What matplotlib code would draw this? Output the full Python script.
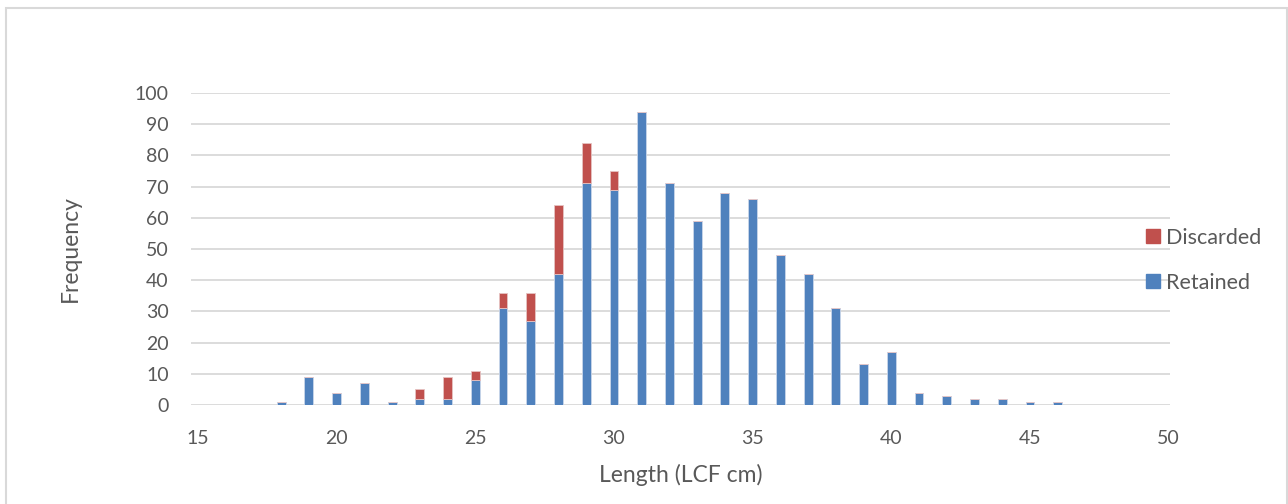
import matplotlib.pyplot as plt
from matplotlib.patches import Rectangle
import numpy as np

# length classes (LCF cm) and counts
lengths = [18, 19, 20, 21, 22, 23, 24, 25, 26, 27, 28, 29, 30, 31, 32,
           33, 34, 35, 36, 37, 38, 39, 40, 41, 42, 43, 44, 45, 46]
retained = [1, 9, 4, 7, 1, 2, 2, 8, 31, 27, 42, 71, 69, 94, 71,
            59, 68, 66, 48, 42, 31, 13, 17, 4, 3, 2, 2, 1, 1]
discarded = [0, 0, 0, 0, 0, 3, 7, 3, 5, 9, 22, 13, 6, 0, 0,
             0, 0, 0, 0, 0, 0, 0, 0, 0, 0, 0, 0, 0, 0]

blue = "#4F81BD"
red = "#C0504D"
grey_txt = "#595959"
grid_col = "#D9D9D9"

plt.rcParams["font.family"] = ["Lato", "DejaVu Sans"]

W, H = 1288, 504
fig = plt.figure(figsize=(W / 100, H / 100), dpi=100)
ax = fig.add_axes([191 / W, 99 / H, 979 / W, 312 / H])

x = np.array(lengths)
ax.bar(x, retained, width=0.32, color=blue, edgecolor="#C9D6EA",
       linewidth=0.6, label="Retained", zorder=3)
ax.bar(x, discarded, width=0.32, bottom=retained, color=red,
       edgecolor="#E6C3C2", linewidth=0.6, label="Discarded", zorder=3)

ax.set_xlim(14.75, 50.05)
ax.set_ylim(0, 100)
ax.set_xticks(range(15, 51, 5))
ax.set_yticks(range(0, 101, 10))
ax.yaxis.grid(True, color=grid_col, linewidth=1.3)
ax.set_axisbelow(True)
for s in ax.spines.values():
    s.set_visible(False)
ax.tick_params(length=0, colors=grey_txt, labelsize=14)
ax.tick_params(axis="y", pad=16)
ax.tick_params(axis="x", pad=18)

ax.set_xlabel("Length (LCF cm)", fontsize=16.5, color=grey_txt, labelpad=12)
ax.set_ylabel("Frequency", fontsize=16.5, color=grey_txt, labelpad=39)

# legend drawn by hand (Excel-style: square key + label)
for name, col, yc in [("Discarded", red, 236), ("Retained", blue, 281)]:
    fig.add_artist(Rectangle((1146 / W, 1 - (yc + 7) / H), 14 / W, 14 / H,
                             transform=fig.transFigure, color=col))
    fig.text(1166 / W, 1 - (yc + 2) / H, name, fontsize=15.5, color=grey_txt,
             va="center", ha="left")

fig.add_artist(Rectangle((6 / W, -0.05), 1281 / W, 1.05 - 8 / H,
                         transform=fig.transFigure, fill=False,
                         edgecolor=grid_col, linewidth=1.5))

fig.savefig("out.png", dpi=100)
